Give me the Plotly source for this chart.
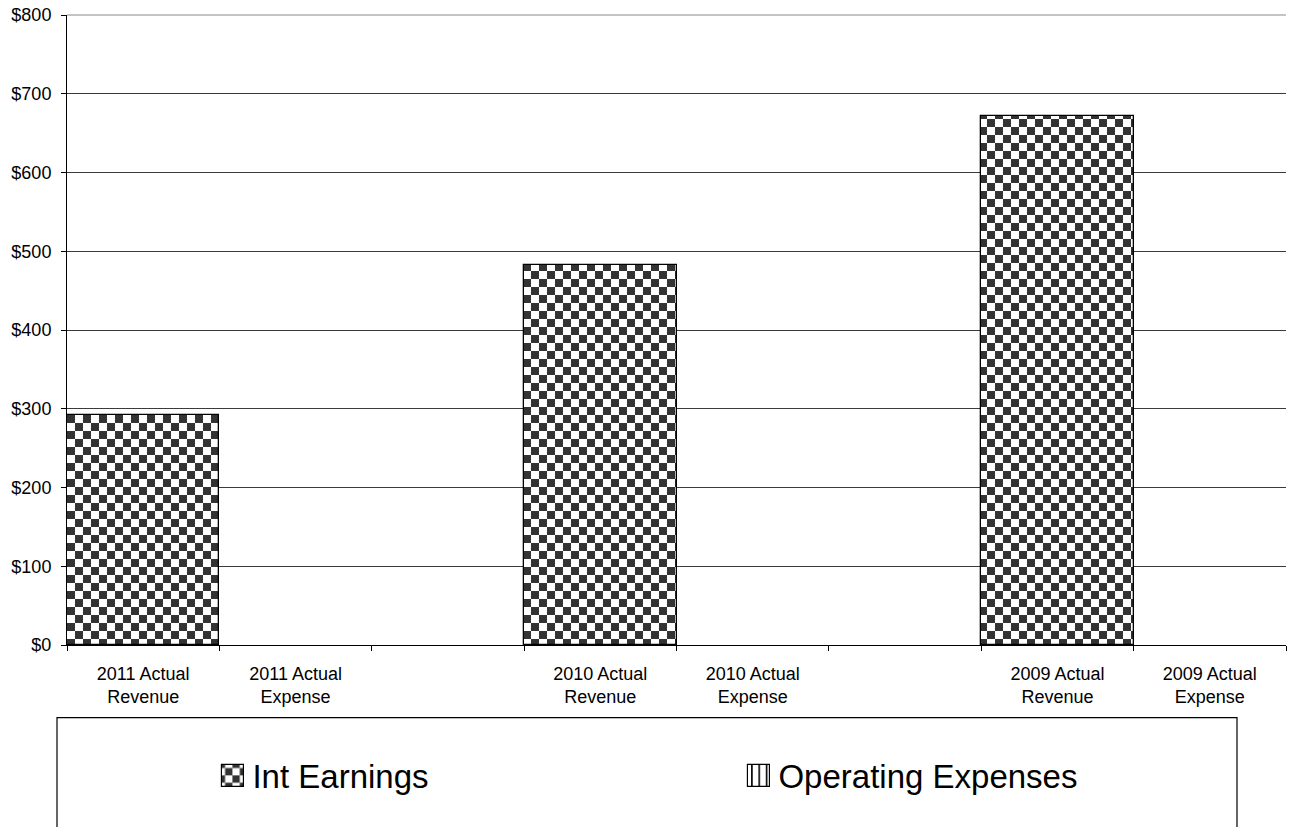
import plotly.graph_objects as go

categories = [
    "2011 Actual<br>Revenue", "2011 Actual<br>Expense", " ",
    "2010 Actual<br>Revenue", "2010 Actual<br>Expense", "  ",
    "2009 Actual<br>Revenue", "2009 Actual<br>Expense",
]
int_earnings = [292, None, None, 483, None, None, 672, None]
operating_expenses = [None, 0, None, None, 0, None, None, 0]
y_tick_values = [0, 100, 200, 300, 400, 500, 600, 700, 800]
y_tick_labels = ["$0", "$100", "$200", "$300", "$400", "$500", "$600", "$700", "$800"]

FONT = "Liberation Sans, Arial, sans-serif"

fig = go.Figure()
fig.add_trace(go.Bar(
    x=categories, y=int_earnings, name="Int Earnings", uid="intearn",
    marker=dict(color="white", line=dict(color="black", width=1.3),
                pattern=dict(shape="x", fgcolor="#333333", bgcolor="white", size=16, solidity=0.5)),
))
fig.add_trace(go.Bar(
    x=categories, y=operating_expenses, name="Operating Expenses", uid="opexp",
    marker=dict(color="white", line=dict(color="black", width=0),
                pattern=dict(shape="|", fgcolor="black", bgcolor="white", size=7, solidity=0.2)),
))

fig.update_layout(
    width=1291, height=827,
    margin=dict(l=67, r=5, t=12, b=182),
    paper_bgcolor="white", plot_bgcolor="white",
    barmode="overlay", bargap=0,
    font=dict(family=FONT, color="black", size=18),
    showlegend=True,
    legend=dict(
        orientation="h", x=0.1193, xanchor="left", y=-0.207, yanchor="middle",
        font=dict(size=33, family=FONT, color="black"),
        bgcolor="rgba(0,0,0,0)", borderwidth=0,
        entrywidth=481, entrywidthmode="pixels", traceorder="normal",
    ),
    xaxis=dict(
        type="category", categoryorder="array", categoryarray=categories,
        showline=True, linecolor="black", linewidth=1,
        ticks="outside", tickson="boundaries", ticklen=5, tickcolor="black",
        showgrid=False, tickfont=dict(size=18), range=[-0.5, 7.5],
        ticklabelstandoff=12,
    ),
    yaxis=dict(
        range=[0, 800], tickvals=y_tick_values, ticktext=y_tick_labels,
        showline=True, linecolor="black", linewidth=1,
        ticks="outside", ticklen=5, tickcolor="black",
        showgrid=True, gridcolor="#3a3a3a", gridwidth=1, zeroline=False,
        tickfont=dict(size=18), ticklabelstandoff=6,
    ),
)

# top border line of plot area (at $800)
fig.add_shape(type="line", xref="paper", yref="paper", x0=0, x1=1, y0=1, y1=1,
              line=dict(color="#8a8a8a", width=1))

# legend frame
fig.add_shape(type="rect", xref="paper", yref="paper",
              x0=-0.0082, x1=0.9598, y0=-0.1153, y1=-0.40,
              line=dict(color="black", width=1.2), fillcolor="rgba(0,0,0,0)", layer="below")

post = r"""
(function(){
  document.body.style.margin = '0';
  var gd = document.getElementById('{plot_id}');
  var ns = 'http://www.w3.org/2000/svg';
  var defs = gd.querySelector('defs');
  function mk(id, tile, draw){
    var old = document.getElementById(id); if(old) old.remove();
    var p = document.createElementNS(ns, 'pattern');
    p.setAttribute('id', id); p.setAttribute('width', tile); p.setAttribute('height', tile);
    p.setAttribute('patternUnits', 'userSpaceOnUse');
    var r = document.createElementNS(ns, 'rect');
    r.setAttribute('width', tile); r.setAttribute('height', tile); r.setAttribute('fill', '#ffffff');
    p.appendChild(r); draw(p); defs.appendChild(p); return id;
  }
  function checker(id, sq){
    return mk(id, 2*sq, function(p){
      [[0,0],[sq,sq]].forEach(function(o){
        var q = document.createElementNS(ns, 'rect');
        q.setAttribute('x', o[0]); q.setAttribute('y', o[1]);
        q.setAttribute('width', sq); q.setAttribute('height', sq);
        q.setAttribute('fill', '#333333'); p.appendChild(q);
      });
    });
  }
  function vlines(id, step, w){
    return mk(id, step, function(p){
      var q = document.createElementNS(ns, 'rect');
      q.setAttribute('x', 0); q.setAttribute('y', 0);
      q.setAttribute('width', w); q.setAttribute('height', step);
      q.setAttribute('fill', '#000000'); p.appendChild(q);
    });
  }
  checker('chk-bar', 8);
  checker('chk-leg', 7.33);
  vlines('vl-leg', 7.33, 1.6);
  var traces = gd.querySelectorAll('.barlayer .trace');
  if(traces.length){
    traces[0].querySelectorAll('.point path').forEach(function(el){
      el.style.fill = 'url(#chk-bar)';
    });
  }
  var lt = gd.querySelectorAll('.legend .traces');
  lt.forEach(function(t, i){
    var path = t.querySelector('.legendpoints path');
    if(!path) return;
    path.setAttribute('d', 'M11,11H-11V-11H11Z');
    path.style.fill = (i === 0) ? 'url(#chk-leg)' : 'url(#vl-leg)';
    path.style.stroke = '#000'; path.style.strokeWidth = '1.2px';
  });
})();
"""

fig.write_html("out.html", post_script=post, config={"displayModeBar": False})
